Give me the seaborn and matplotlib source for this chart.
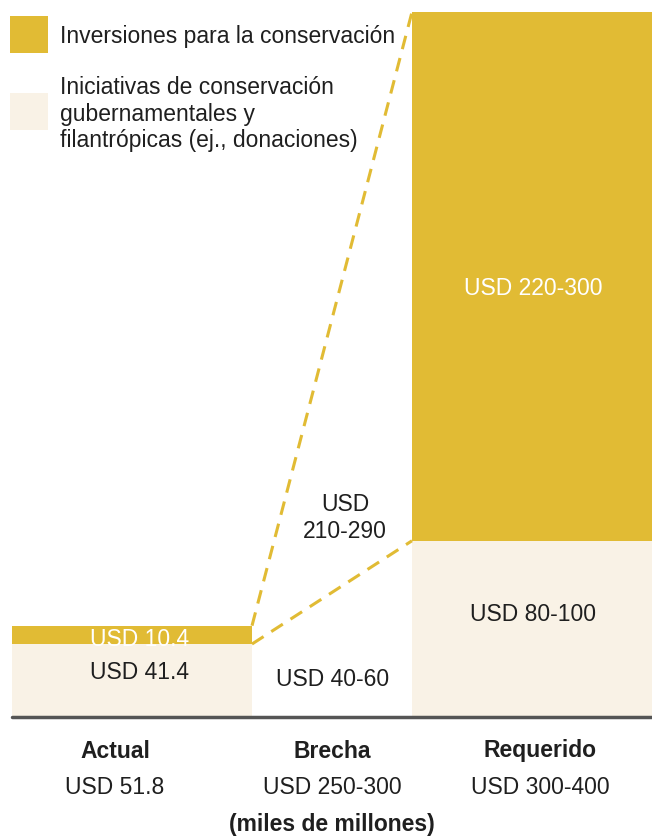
import matplotlib
matplotlib.use("Agg")
import matplotlib.pyplot as plt
import seaborn as sns
import pandas as pd
from matplotlib.patches import Rectangle

# data (miles de millones USD), upper bounds used for bar heights
categories = ["Actual", "Brecha", "Requerido"]
government = [41.4, 0, 100]          # Iniciativas gubernamentales y filantrópicas
conservation = [10.4, 0, 300]        # Inversiones para la conservación
totals = [g + c for g, c in zip(government, conservation)]

bar_labels = ["USD 41.4", "USD 10.4", "USD 40-60", "USD\n210-290", "USD 80-100", "USD 220-300"]
cat_totals = ["USD 51.8", "USD 250-300", "USD 300-400"]
unit_label = "(miles de millones)"
legend_labels = ["Inversiones para la conservación",
                 "Iniciativas de conservación\ngubernamentales y\nfilantrópicas (ej., donaciones)"]

gold = "#E1BB34"
cream = "#F9F2E6"
dark = "#1f1f1f"

sns.set_theme(style="white")
plt.rcParams["font.family"] = ["Liberation Sans", "DejaVu Sans"]

W, H = 652, 836
fig = plt.figure(figsize=(W / 100, H / 100), dpi=100)
ax = fig.add_axes([12 / W, (H - 717) / H, 640 / W, 705 / H])

df = pd.DataFrame({"cat": categories, "total": totals, "gov": government})

# stacked bars: full height in gold, then the bottom part in cream on top
sns.barplot(data=df, x="cat", y="total", color=gold, width=1.2, saturation=1, ax=ax)
sns.barplot(data=df, x="cat", y="gov", color=cream, width=1.2, saturation=1, ax=ax)
for p in ax.patches:
    p.set_linewidth(0)

ax.set_xlim(-0.6, 2.6)
ax.set_ylim(0, 400)
ax.set_xlabel("")
ax.set_ylabel("")
ax.set_xticks([])
ax.set_yticks([])
sns.despine(ax=ax, left=True, bottom=True)

# baseline
ax.axhline(0, color="#555555", lw=2.5, clip_on=False)

# dashed connectors from Actual to Requerido
ax.plot([0.6, 1.4], [totals[0], totals[2]], ls=(0, (4.5, 3)), color=gold, lw=2.2)
ax.plot([0.6, 1.4], [government[0], government[2]], ls=(0, (4.5, 3)), color=gold, lw=2.2)

fs = 16.5
ax.text(0.04, 25, bar_labels[0], ha="center", va="center", fontsize=fs, color=dark)
ax.text(0.04, 44, bar_labels[1], ha="center", va="center", fontsize=fs, color="white")
ax.text(1.005, 21, bar_labels[2], ha="center", va="center", fontsize=fs, color=dark)
ax.text(1.065, 113, bar_labels[3], ha="center", va="center", fontsize=fs, color=dark,
        linespacing=1.2)
ax.text(2.005, 58, bar_labels[4], ha="center", va="center", fontsize=fs, color=dark)
ax.text(2.005, 243, bar_labels[5], ha="center", va="center", fontsize=fs, color="white")

# category labels under the axis (pixel positions converted to figure fraction)
def fx(x):
    return x / W

def fy(y):
    return 1 - y / H

label_px = [115, 332, 540]
for name, tot, px in zip(categories, cat_totals, label_px):
    fig.text(fx(px), fy(751), name, ha="center", va="center", fontsize=fs,
             fontweight="bold", color=dark)
    fig.text(fx(px), fy(787), tot, ha="center", va="center", fontsize=fs, color=dark)
fig.text(fx(332), fy(825), unit_label, ha="center", va="center", fontsize=fs,
         fontweight="bold", color=dark)

# legend drawn by hand
fig.add_artist(Rectangle((fx(10), fy(53)), 38 / W, 37 / H, transform=fig.transFigure,
                         color=gold, lw=0))
fig.add_artist(Rectangle((fx(10), fy(130)), 38 / W, 37 / H, transform=fig.transFigure,
                         color=cream, lw=0))
fig.text(fx(60), fy(37), legend_labels[0], ha="left", va="center", fontsize=fs, color=dark)
fig.text(fx(60), fy(114), legend_labels[1], ha="left", va="center", fontsize=fs, color=dark,
         linespacing=1.2)

fig.savefig("out.png", dpi=100)
